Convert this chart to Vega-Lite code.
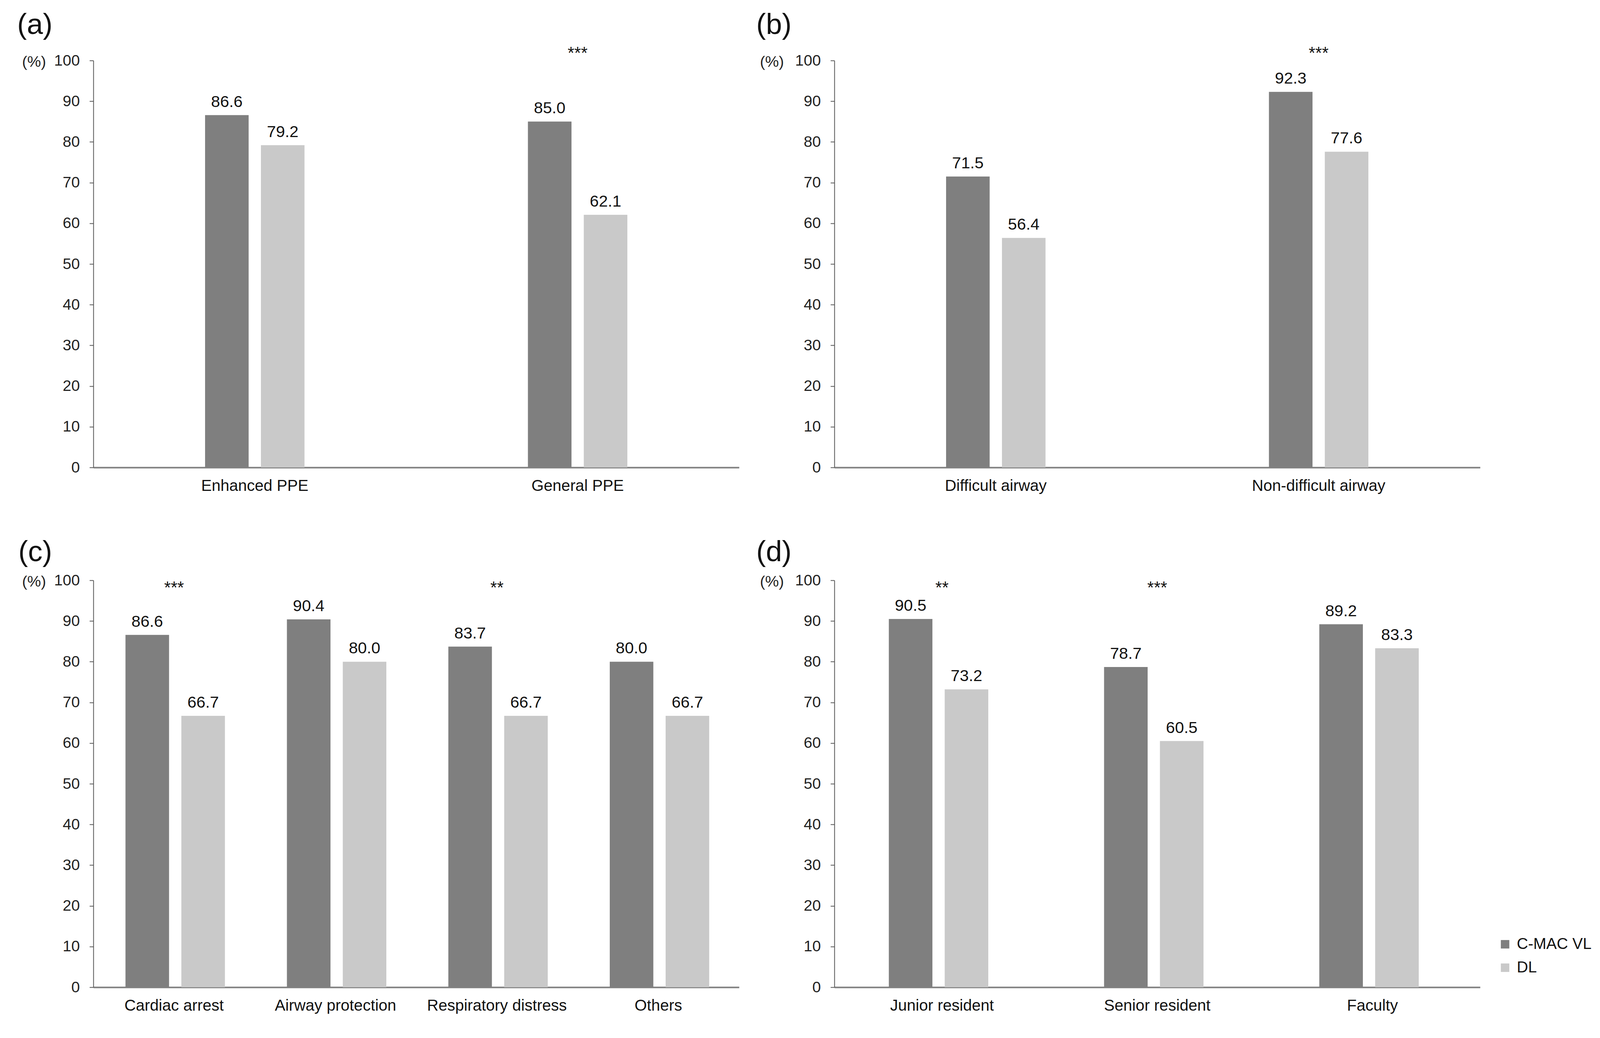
{
  "$schema": "https://vega.github.io/schema/vega-lite/v6.json",
  "background": "white",
  "padding": {"left": 44, "top": 28, "right": 5, "bottom": 5},
  "config": {
    "font": "Liberation Sans",
    "view": {"stroke": null},
    "title": {"fontSize": 74, "fontWeight": "normal", "color": "#111", "anchor": "start", "frame": "group", "baseline": "alphabetic", "offset": 13},
    "axisY": {"grid": false, "labelFontSize": 39.5, "labelPadding": 25, "labelColor": "#222", "tickSize": 10, "tickWidth": 2, "tickColor": "#555", "domainColor": "#555", "domainWidth": 2, "titleAngle": 0, "titleAlign": "left", "titleBaseline": "middle", "titleFontSize": 39.5, "titleFontWeight": "normal", "titleColor": "#222", "titleY": 3},
    "axisX": {"title": null, "labelAngle": 0, "ticks": false, "labelFontSize": 40.5, "labelPadding": 27, "labelLimit": 2000, "labelColor": "#111", "domainColor": "#808080", "domainWidth": 4, "grid": false},
    "legend": {"title": null, "symbolType": "square", "symbolSize": 470, "symbolStrokeWidth": 0, "labelFontSize": 40, "labelLimit": 2000, "labelColor": "#111", "rowPadding": 20, "labelOffset": 10, "padding": 0}
  },
  "datasets": {
    "bars": [
      {"panel": "a", "group": "Enhanced PPE", "device": "C-MAC VL", "value": 86.6},
      {"panel": "a", "group": "Enhanced PPE", "device": "DL", "value": 79.2},
      {"panel": "a", "group": "General PPE", "device": "C-MAC VL", "value": 85.0},
      {"panel": "a", "group": "General PPE", "device": "DL", "value": 62.1},
      {"panel": "b", "group": "Difficult airway", "device": "C-MAC VL", "value": 71.5},
      {"panel": "b", "group": "Difficult airway", "device": "DL", "value": 56.4},
      {"panel": "b", "group": "Non-difficult airway", "device": "C-MAC VL", "value": 92.3},
      {"panel": "b", "group": "Non-difficult airway", "device": "DL", "value": 77.6},
      {"panel": "c", "group": "Cardiac arrest", "device": "C-MAC VL", "value": 86.6},
      {"panel": "c", "group": "Cardiac arrest", "device": "DL", "value": 66.7},
      {"panel": "c", "group": "Airway protection", "device": "C-MAC VL", "value": 90.4},
      {"panel": "c", "group": "Airway protection", "device": "DL", "value": 80.0},
      {"panel": "c", "group": "Respiratory distress", "device": "C-MAC VL", "value": 83.7},
      {"panel": "c", "group": "Respiratory distress", "device": "DL", "value": 66.7},
      {"panel": "c", "group": "Others", "device": "C-MAC VL", "value": 80.0},
      {"panel": "c", "group": "Others", "device": "DL", "value": 66.7},
      {"panel": "d", "group": "Junior resident", "device": "C-MAC VL", "value": 90.5},
      {"panel": "d", "group": "Junior resident", "device": "DL", "value": 73.2},
      {"panel": "d", "group": "Senior resident", "device": "C-MAC VL", "value": 78.7},
      {"panel": "d", "group": "Senior resident", "device": "DL", "value": 60.5},
      {"panel": "d", "group": "Faculty", "device": "C-MAC VL", "value": 89.2},
      {"panel": "d", "group": "Faculty", "device": "DL", "value": 83.3}
    ],
    "stars": [
      {"panel": "a", "group": "General PPE", "star": "***"},
      {"panel": "b", "group": "Non-difficult airway", "star": "***"},
      {"panel": "c", "group": "Cardiac arrest", "star": "***"},
      {"panel": "c", "group": "Respiratory distress", "star": "**"},
      {"panel": "d", "group": "Junior resident", "star": "**"},
      {"panel": "d", "group": "Senior resident", "star": "***"}
    ]
  },
  "columns": 2,
  "spacing": {"row": 289, "column": 244},
  "bounds": "flush",
  "concat": [
    {
      "width": 1653, "height": 1042,
      "title": {"text": "(a)", "dx": -195},
      "encoding": {
        "x": {"field": "group", "type": "nominal", "scale": {"domain": ["Enhanced PPE", "General PPE"], "paddingInner": 0.692, "paddingOuter": 0.346}}
      },
      "layer": [
        {
          "data": {"name": "bars"},
          "transform": [{"filter": "datum.panel == 'a'"}],
          "mark": {"type": "bar"},
          "encoding": {
            "xOffset": {"field": "device", "type": "nominal", "scale": {"paddingInner": 0.22, "paddingOuter": 0}},
            "y": {"field": "value", "type": "quantitative", "scale": {"domain": [0, 100], "nice": false}, "axis": {"title": "(%)", "titleX": -183, "values": [0, 10, 20, 30, 40, 50, 60, 70, 80, 90, 100]}},
            "color": {"field": "device", "type": "nominal", "scale": {"domain": ["C-MAC VL", "DL"], "range": ["#7f7f7f", "#c9c9c9"]}, "legend": {"orient": "none", "legendX": 3594, "legendY": 2243}}
          }
        },
        {
          "data": {"name": "bars"},
          "transform": [{"filter": "datum.panel == 'a'"}],
          "mark": {"type": "text", "baseline": "alphabetic", "dy": -21, "fontSize": 41.5, "color": "#111"},
          "encoding": {
            "xOffset": {"field": "device", "type": "nominal"},
            "y": {"field": "value", "type": "quantitative"},
            "text": {"field": "value", "type": "quantitative", "format": ".1f"}
          }
        },
        {
          "data": {"name": "stars"},
          "transform": [{"filter": "datum.panel == 'a'"}],
          "mark": {"type": "text", "baseline": "alphabetic", "dy": -4, "fontSize": 43.5, "color": "#111"},
          "encoding": {
            "y": {"datum": 100},
            "text": {"field": "star", "type": "nominal"}
          }
        }
      ]
    },
    {
      "width": 1653, "height": 1042,
      "title": {"text": "(b)", "dx": -200},
      "encoding": {
        "x": {"field": "group", "type": "nominal", "scale": {"domain": ["Difficult airway", "Non-difficult airway"], "paddingInner": 0.692, "paddingOuter": 0.346}}
      },
      "layer": [
        {
          "data": {"name": "bars"},
          "transform": [{"filter": "datum.panel == 'b'"}],
          "mark": {"type": "bar"},
          "encoding": {
            "xOffset": {"field": "device", "type": "nominal", "scale": {"paddingInner": 0.22, "paddingOuter": 0}},
            "y": {"field": "value", "type": "quantitative", "scale": {"domain": [0, 100], "nice": false}, "axis": {"title": "(%)", "titleX": -191, "values": [0, 10, 20, 30, 40, 50, 60, 70, 80, 90, 100]}},
            "color": {"field": "device", "type": "nominal", "scale": {"domain": ["C-MAC VL", "DL"], "range": ["#7f7f7f", "#c9c9c9"]}, "legend": {"orient": "none", "legendX": 3594, "legendY": 2243}}
          }
        },
        {
          "data": {"name": "bars"},
          "transform": [{"filter": "datum.panel == 'b'"}],
          "mark": {"type": "text", "baseline": "alphabetic", "dy": -21, "fontSize": 41.5, "color": "#111"},
          "encoding": {
            "xOffset": {"field": "device", "type": "nominal"},
            "y": {"field": "value", "type": "quantitative"},
            "text": {"field": "value", "type": "quantitative", "format": ".1f"}
          }
        },
        {
          "data": {"name": "stars"},
          "transform": [{"filter": "datum.panel == 'b'"}],
          "mark": {"type": "text", "baseline": "alphabetic", "dy": -4, "fontSize": 43.5, "color": "#111"},
          "encoding": {
            "y": {"datum": 100},
            "text": {"field": "star", "type": "nominal"}
          }
        }
      ]
    },
    {
      "width": 1653, "height": 1042,
      "title": {"text": "(c)", "dx": -192},
      "encoding": {
        "x": {"field": "group", "type": "nominal", "scale": {"domain": ["Cardiac arrest", "Airway protection", "Respiratory distress", "Others"], "paddingInner": 0.398, "paddingOuter": 0.199}}
      },
      "layer": [
        {
          "data": {"name": "bars"},
          "transform": [{"filter": "datum.panel == 'c'"}],
          "mark": {"type": "bar"},
          "encoding": {
            "xOffset": {"field": "device", "type": "nominal", "scale": {"paddingInner": 0.22, "paddingOuter": 0}},
            "y": {"field": "value", "type": "quantitative", "scale": {"domain": [0, 100], "nice": false}, "axis": {"title": "(%)", "titleX": -183, "values": [0, 10, 20, 30, 40, 50, 60, 70, 80, 90, 100]}},
            "color": {"field": "device", "type": "nominal", "scale": {"domain": ["C-MAC VL", "DL"], "range": ["#7f7f7f", "#c9c9c9"]}, "legend": {"orient": "none", "legendX": 3594, "legendY": 2243}}
          }
        },
        {
          "data": {"name": "bars"},
          "transform": [{"filter": "datum.panel == 'c'"}],
          "mark": {"type": "text", "baseline": "alphabetic", "dy": -21, "fontSize": 41.5, "color": "#111"},
          "encoding": {
            "xOffset": {"field": "device", "type": "nominal"},
            "y": {"field": "value", "type": "quantitative"},
            "text": {"field": "value", "type": "quantitative", "format": ".1f"}
          }
        },
        {
          "data": {"name": "stars"},
          "transform": [{"filter": "datum.panel == 'c'"}],
          "mark": {"type": "text", "baseline": "alphabetic", "dy": 34, "fontSize": 43.5, "color": "#111"},
          "encoding": {
            "y": {"datum": 100},
            "text": {"field": "star", "type": "nominal"}
          }
        }
      ]
    },
    {
      "width": 1653, "height": 1042,
      "title": {"text": "(d)", "dx": -200},
      "encoding": {
        "x": {"field": "group", "type": "nominal", "scale": {"domain": ["Junior resident", "Senior resident", "Faculty"], "paddingInner": 0.506, "paddingOuter": 0.253}}
      },
      "layer": [
        {
          "data": {"name": "bars"},
          "transform": [{"filter": "datum.panel == 'd'"}],
          "mark": {"type": "bar"},
          "encoding": {
            "xOffset": {"field": "device", "type": "nominal", "scale": {"paddingInner": 0.21, "paddingOuter": 0}},
            "y": {"field": "value", "type": "quantitative", "scale": {"domain": [0, 100], "nice": false}, "axis": {"title": "(%)", "titleX": -191, "values": [0, 10, 20, 30, 40, 50, 60, 70, 80, 90, 100]}},
            "color": {"field": "device", "type": "nominal", "scale": {"domain": ["C-MAC VL", "DL"], "range": ["#7f7f7f", "#c9c9c9"]}, "legend": {"orient": "none", "legendX": 3594, "legendY": 2243}}
          }
        },
        {
          "data": {"name": "bars"},
          "transform": [{"filter": "datum.panel == 'd'"}],
          "mark": {"type": "text", "baseline": "alphabetic", "dy": -21, "fontSize": 41.5, "color": "#111"},
          "encoding": {
            "xOffset": {"field": "device", "type": "nominal"},
            "y": {"field": "value", "type": "quantitative"},
            "text": {"field": "value", "type": "quantitative", "format": ".1f"}
          }
        },
        {
          "data": {"name": "stars"},
          "transform": [{"filter": "datum.panel == 'd'"}],
          "mark": {"type": "text", "baseline": "alphabetic", "dy": 34, "fontSize": 43.5, "color": "#111"},
          "encoding": {
            "y": {"datum": 100},
            "text": {"field": "star", "type": "nominal"}
          }
        }
      ]
    }
  ]
}
